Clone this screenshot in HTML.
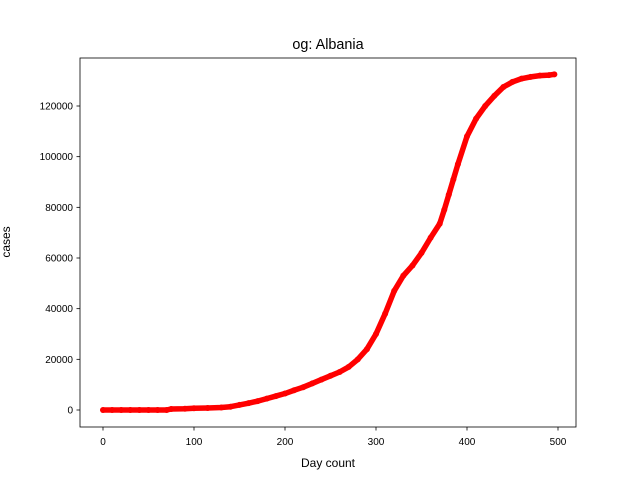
<!DOCTYPE html>
<html><head><meta charset="utf-8"><style>
body{margin:0;background:#fff;}
svg{display:block;font-family:"Liberation Sans","DejaVu Sans",sans-serif;}
</style></head><body>
<svg id="chart" width="640" height="480">
<rect width="640" height="480" fill="#fff"/>
<g id="plot"></g>
<rect x="80" y="58" width="496" height="369" fill="none" stroke="#000" stroke-width="0.8"/>
<g id="xt"></g>
<g id="yt"></g>
<text x="328" y="49" text-anchor="middle" font-size="14.4">og: Albania</text>
<text x="328" y="467" text-anchor="middle" font-size="12">Day count</text>
<text x="0" y="0" transform="translate(10,242) rotate(-90)" text-anchor="middle" font-size="12">cases</text>
</svg>
<script>
const days=[0,10,20,30,40,50,60,70,75,90,100,115,130,140,150,160,170,180,190,200,210,220,230,240,250,260,270,280,290,300,310,320,330,340,350,360,370,375,380,385,390,400,410,420,430,440,450,460,470,480,490,496];
const cases=[0,0,0,0,0,0,0,0,400,500,700,800,1000,1300,2000,2700,3500,4500,5500,6500,7800,9000,10500,12000,13500,15000,17000,20000,24000,30000,38000,47000,53000,57000,62000,68000,73500,79000,85000,91000,97000,108000,115000,120000,124000,127500,129500,130800,131500,132000,132200,132500];
const xTicks=[0,100,200,300,400,500];
const yTicks=[0,20000,40000,60000,80000,100000,120000];
const NS="http://www.w3.org/2000/svg";
const x=d=>103+d*0.91;
const y=v=>410-v*304/120000;
const plot=document.getElementById('plot');
const line=document.createElementNS(NS,'polyline');


line.setAttribute('points',days.map((d,i)=>x(d)+','+y(cases[i])).join(' '));
line.setAttribute('fill','none');line.setAttribute('stroke','#f00');line.setAttribute('stroke-width','5.5');line.setAttribute('stroke-linecap','round');line.setAttribute('stroke-linejoin','round');
plot.appendChild(line);
days.forEach((d,i)=>{const c=document.createElementNS(NS,'circle');


c.setAttribute('cx',x(d));c.setAttribute('cy',y(cases[i]));c.setAttribute('r','3');c.setAttribute('fill','#f00');plot.appendChild(c);});
const xt=document.getElementById('xt');
xTicks.forEach(t=>{const l=document.createElementNS(NS,'line');


l.setAttribute('x1',x(t));l.setAttribute('x2',x(t));l.setAttribute('y1',427);l.setAttribute('y2',430.5);l.setAttribute('stroke','#000');l.setAttribute('stroke-width','0.8');xt.appendChild(l);
const s=document.createElementNS(NS,'text');


s.setAttribute('x',x(t));s.setAttribute('y',445);s.setAttribute('text-anchor','middle');s.setAttribute('font-size','10');s.textContent=t;xt.appendChild(s);});
const yt=document.getElementById('yt');
yTicks.forEach(t=>{const l=document.createElementNS(NS,'line');


l.setAttribute('x1',76.5);l.setAttribute('x2',80);l.setAttribute('y1',y(t));l.setAttribute('y2',y(t));l.setAttribute('stroke','#000');l.setAttribute('stroke-width','0.8');yt.appendChild(l);
const s=document.createElementNS(NS,'text');


s.setAttribute('x',73);s.setAttribute('y',y(t)+3.5);s.setAttribute('text-anchor','end');s.setAttribute('font-size','10');s.textContent=t;yt.appendChild(s);});
</script>
</body></html>
